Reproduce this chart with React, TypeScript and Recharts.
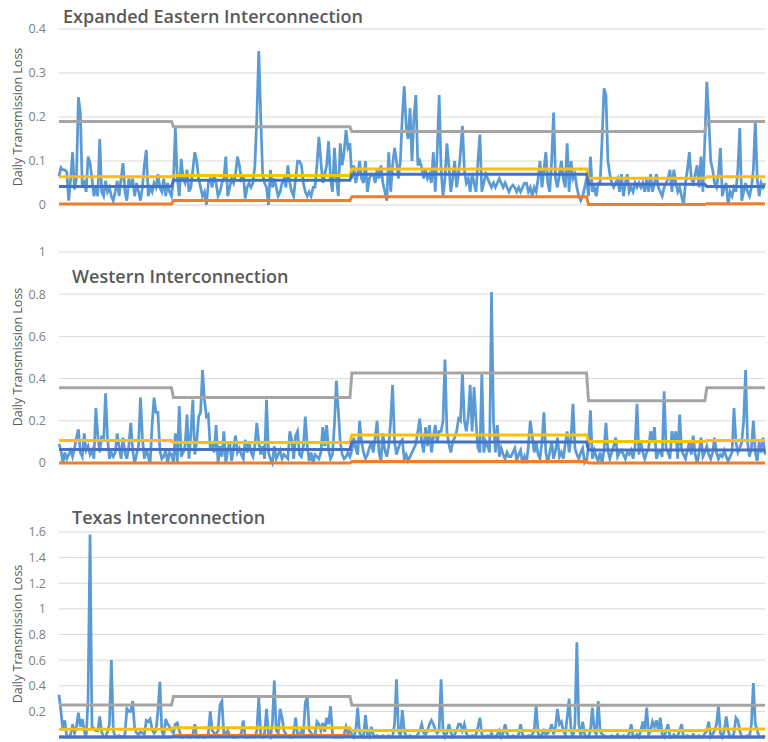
import React from "react";
import { LineChart, Line, XAxis, YAxis, CartesianGrid } from "recharts";

// days per season block: Jan-Feb, Mar-May, Jun-Sep, Oct-Nov, Dec
const seasonDays = [59, 92, 122, 61, 31];

const eastDaily = [
  0.065, 0.085, 0.08, 0.08, 0.075, 0.01, 0.06, 0.12, 0.035, 0.06,
  0.245, 0.21, 0.04, 0.05, 0.03, 0.11, 0.095, 0.06, 0.02, 0.04,
  0.02, 0.15, 0.03, 0.02, 0.055, 0.03, 0.04, 0.02, 0.01, 0.03,
  0.055, 0.02, 0.06, 0.095, 0.03, 0.01, 0.06, 0.04, 0.06, 0.02,
  0.05, 0.03, 0.01, 0.04, 0.09, 0.125, 0.02, 0.04, 0.03, 0.05,
  0.04, 0.07, 0.04, 0.03, 0.06, 0.02, 0.05, 0.03, 0.02, 0.055,
  0.175, 0.06, 0.02, 0.105, 0.06, 0.05, 0.08, 0.03, 0.04, 0.08,
  0.12, 0.1, 0.06, 0.04, 0.02, 0.03, 0.0, 0.05, 0.06, 0.04,
  0.07, 0.05, 0.02, 0.03, 0.05, 0.06, 0.11, 0.02, 0.04, 0.06,
  0.05, 0.07, 0.11, 0.09, 0.06, 0.07, 0.015, 0.04, 0.05, 0.04,
  0.05, 0.09, 0.2, 0.35, 0.2, 0.07, 0.05, 0.04, 0.0, 0.08,
  0.04, 0.06, 0.04, 0.02, 0.03, 0.05, 0.06, 0.04, 0.09, 0.05,
  0.03, 0.02, 0.06, 0.1, 0.1, 0.09, 0.05, 0.03, 0.02, 0.03,
  0.02, 0.04, 0.04, 0.09, 0.155, 0.1, 0.05, 0.07, 0.09, 0.145,
  0.06, 0.03, 0.13, 0.06, 0.02, 0.14, 0.09, 0.12, 0.17, 0.13,
  0.14, 0.06, 0.09, 0.05, 0.07, 0.1, 0.06, 0.05, 0.1, 0.03,
  0.06, 0.07, 0.07, 0.05, 0.08, 0.06, 0.09, 0.05, 0.03, 0.01,
  0.12, 0.03, 0.09, 0.13, 0.1, 0.06, 0.1, 0.2, 0.27, 0.18,
  0.15, 0.22, 0.1, 0.2, 0.25, 0.09, 0.1, 0.085, 0.06, 0.08,
  0.06, 0.07, 0.05, 0.12, 0.03, 0.12, 0.25, 0.08, 0.02, 0.06,
  0.14, 0.09, 0.03, 0.06, 0.1, 0.04, 0.07, 0.12, 0.18, 0.08,
  0.05, 0.06, 0.03, 0.07, 0.05, 0.03, 0.1, 0.16, 0.03, 0.05,
  0.07, 0.06, 0.05, 0.04, 0.05, 0.04, 0.05, 0.06, 0.05, 0.04,
  0.05, 0.04, 0.03, 0.04, 0.045, 0.04, 0.03, 0.04, 0.03, 0.04,
  0.05, 0.05, 0.03, 0.04, 0.02, 0.04, 0.03, 0.06, 0.1, 0.04,
  0.08, 0.12, 0.05, 0.03, 0.1, 0.21, 0.06, 0.04, 0.07, 0.1,
  0.06, 0.04, 0.14, 0.03, 0.1, 0.06, 0.07, 0.04, 0.02, 0.01,
  0.02, 0.04, 0.06, 0.02, 0.11, 0.03, 0.04, 0.02, 0.05, 0.05,
  0.15, 0.265, 0.25, 0.1, 0.07, 0.05, 0.04, 0.05, 0.06, 0.03,
  0.07, 0.02, 0.05, 0.07, 0.03, 0.04, 0.03, 0.05, 0.04, 0.05,
  0.04, 0.05, 0.03, 0.06, 0.03, 0.07, 0.03, 0.05, 0.07, 0.04,
  0.03, 0.02, 0.04, 0.05, 0.06, 0.08, 0.03, 0.08, 0.05, 0.03,
  0.04, 0.02, 0.0, 0.05, 0.08, 0.12, 0.06, 0.05, 0.07, 0.09,
  0.04, 0.11, 0.03, 0.15, 0.28, 0.2, 0.1, 0.08, 0.05, 0.04,
  0.07, 0.13, 0.02, 0.04, 0.05, 0.0, 0.03, 0.02, 0.04, 0.03,
  0.08, 0.175, 0.01, 0.03, 0.05, 0.03, 0.02, 0.04, 0.08, 0.19,
  0.06, 0.02, 0.05, 0.04, 0.05,
];

const westDaily = [
  0.09, 0.06, 0.0, 0.05, 0.02, 0.04, 0.06, 0.03, 0.07, 0.12,
  0.16, 0.05, 0.03, 0.14, 0.06, 0.08, 0.04, 0.06, 0.02, 0.26,
  0.13, 0.05, 0.13, 0.1, 0.33, 0.12, 0.02, 0.05, 0.03, 0.05,
  0.14, 0.08, 0.02, 0.12, 0.05, 0.02, 0.08, 0.19, 0.06, 0.0,
  0.04, 0.08, 0.31, 0.12, 0.02, 0.07, 0.03, 0.0, 0.18, 0.31,
  0.24, 0.24, 0.06, 0.02, 0.03, 0.06, 0.0, 0.05, 0.04, 0.0,
  0.14, 0.0, 0.27, 0.03, 0.05, 0.08, 0.23, 0.02, 0.14, 0.3,
  0.04, 0.1, 0.22, 0.24, 0.44, 0.3, 0.22, 0.23, 0.06, 0.1,
  0.05, 0.18, 0.0, 0.08, 0.03, 0.15, 0.0, 0.06, 0.1, 0.01,
  0.07, 0.13, 0.05, 0.07, 0.04, 0.02, 0.11, 0.05, 0.1, 0.05,
  0.03, 0.08, 0.19, 0.1, 0.04, 0.08, 0.02, 0.3, 0.05, 0.02,
  0.0, 0.08, 0.02, 0.04, 0.06, 0.02, 0.04, 0.03, 0.02, 0.15,
  0.11, 0.02, 0.13, 0.15, 0.04, 0.03, 0.08, 0.22, 0.08, 0.01,
  0.05, 0.0, 0.04, 0.03, 0.02, 0.05, 0.17, 0.08, 0.18, 0.06,
  0.02, 0.04, 0.18, 0.39, 0.25, 0.1, 0.04, 0.02, 0.03, 0.05,
  0.03, 0.06, 0.12, 0.07, 0.04, 0.2, 0.1, 0.05, 0.02, 0.04,
  0.07, 0.1, 0.05, 0.12, 0.2, 0.05, 0.01, 0.14, 0.06, 0.03,
  0.08, 0.2, 0.37, 0.1, 0.04, 0.07, 0.1, 0.11, 0.02, 0.04,
  0.01, 0.03, 0.05, 0.07, 0.09, 0.15, 0.21, 0.1, 0.05, 0.17,
  0.08, 0.18, 0.05, 0.12, 0.18, 0.1, 0.15, 0.15, 0.2, 0.49,
  0.15, 0.09, 0.05, 0.1, 0.12, 0.15, 0.21, 0.2, 0.43, 0.2,
  0.15, 0.22, 0.37, 0.15, 0.36, 0.2, 0.07, 0.05, 0.42, 0.05,
  0.1, 0.08, 0.05, 0.81, 0.2, 0.05, 0.18, 0.03, 0.07, 0.04,
  0.02, 0.05, 0.03, 0.03, 0.05, 0.07, 0.01, 0.04, 0.06, 0.0,
  0.03, 0.0, 0.08, 0.2, 0.13, 0.05, 0.1, 0.04, 0.02, 0.1,
  0.24, 0.05, 0.0, 0.05, 0.1, 0.02, 0.06, 0.12, 0.03, 0.05,
  0.02, 0.09, 0.15, 0.05, 0.12, 0.28, 0.07, 0.04, 0.02, 0.05,
  0.07, 0.0, 0.01, 0.08, 0.25, 0.02, 0.06, 0.03, 0.01, 0.05,
  0.0, 0.06, 0.19, 0.06, 0.02, 0.05, 0.08, 0.12, 0.03, 0.05,
  0.06, 0.04, 0.02, 0.05, 0.04, 0.06, 0.02, 0.08, 0.28, 0.04,
  0.1, 0.05, 0.02, 0.05, 0.07, 0.15, 0.1, 0.17, 0.02, 0.05,
  0.05, 0.03, 0.34, 0.07, 0.05, 0.02, 0.15, 0.1, 0.15, 0.02,
  0.23, 0.06, 0.04, 0.02, 0.06, 0.1, 0.04, 0.13, 0.04, 0.0,
  0.05, 0.12, 0.03, 0.05, 0.08, 0.04, 0.02, 0.05, 0.12, 0.05,
  0.02, 0.04, 0.03, 0.06, 0.03, 0.01, 0.03, 0.05, 0.26, 0.1,
  0.05, 0.07, 0.1, 0.2, 0.44, 0.1, 0.03, 0.07, 0.2, 0.05,
  0.01, 0.1, 0.05, 0.12, 0.04,
];

const texasDaily = [
  0.33, 0.2, 0.05, 0.13, 0.0, 0.0, 0.02, 0.1, 0.03, 0.08,
  0.19, 0.08, 0.14, 0.05, 0.0, 0.3, 1.58, 0.07, 0.07, 0.05,
  0.05, 0.16, 0.04, 0.0, 0.0, 0.04, 0.1, 0.6, 0.05, 0.0,
  0.0, 0.01, 0.0, 0.0, 0.02, 0.22, 0.2, 0.2, 0.28, 0.07,
  0.03, 0.02, 0.04, 0.03, 0.02, 0.13, 0.12, 0.14, 0.06, 0.03,
  0.05, 0.2, 0.43, 0.05, 0.0, 0.14, 0.1, 0.08, 0.05, 0.03,
  0.1, 0.11, 0.05, 0.0, 0.0, 0.01, 0.0, 0.0, 0.0, 0.02,
  0.1, 0.0, 0.0, 0.01, 0.0, 0.0, 0.0, 0.03, 0.2, 0.05,
  0.03, 0.02, 0.05, 0.25, 0.28, 0.02, 0.03, 0.05, 0.01, 0.0,
  0.0, 0.0, 0.0, 0.01, 0.03, 0.13, 0.0, 0.0, 0.0, 0.01,
  0.0, 0.0, 0.05, 0.31, 0.02, 0.0, 0.03, 0.22, 0.02, 0.0,
  0.1, 0.44, 0.05, 0.03, 0.22, 0.15, 0.05, 0.02, 0.01, 0.0,
  0.0, 0.03, 0.15, 0.02, 0.01, 0.05, 0.03, 0.27, 0.31, 0.05,
  0.03, 0.01, 0.02, 0.12, 0.1, 0.05, 0.11, 0.04, 0.15, 0.1,
  0.24, 0.03, 0.0, 0.0, 0.0, 0.0, 0.0, 0.02, 0.08, 0.03,
  0.05, 0.02, 0.0, 0.05, 0.23, 0.03, 0.01, 0.0, 0.17, 0.02,
  0.0, 0.08, 0.02, 0.0, 0.01, 0.0, 0.0, 0.01, 0.0, 0.0,
  0.01, 0.0, 0.0, 0.1, 0.45, 0.05, 0.0, 0.21, 0.05, 0.0,
  0.0, 0.01, 0.0, 0.0, 0.0, 0.02, 0.05, 0.1, 0.03, 0.02,
  0.05, 0.1, 0.13, 0.1, 0.06, 0.03, 0.05, 0.45, 0.05, 0.0,
  0.03, 0.1, 0.04, 0.0, 0.02, 0.05, 0.1, 0.1, 0.05, 0.1,
  0.03, 0.0, 0.0, 0.01, 0.0, 0.02, 0.08, 0.15, 0.02, 0.0,
  0.0, 0.01, 0.0, 0.03, 0.0, 0.0, 0.02, 0.05, 0.0, 0.03,
  0.1, 0.03, 0.0, 0.0, 0.01, 0.0, 0.0, 0.02, 0.1, 0.02,
  0.0, 0.0, 0.01, 0.0, 0.02, 0.05, 0.25, 0.03, 0.0, 0.02,
  0.05, 0.02, 0.03, 0.05, 0.1, 0.02, 0.08, 0.22, 0.1, 0.12,
  0.05, 0.02, 0.15, 0.3, 0.05, 0.0, 0.1, 0.74, 0.1, 0.0,
  0.12, 0.02, 0.0, 0.0, 0.05, 0.23, 0.05, 0.02, 0.28, 0.05,
  0.02, 0.01, 0.0, 0.0, 0.0, 0.01, 0.0, 0.0, 0.02, 0.0,
  0.0, 0.01, 0.0, 0.0, 0.03, 0.1, 0.0, 0.0, 0.02, 0.0,
  0.05, 0.12, 0.05, 0.23, 0.02, 0.05, 0.12, 0.08, 0.13, 0.05,
  0.15, 0.02, 0.0, 0.05, 0.1, 0.0, 0.0, 0.02, 0.0, 0.01,
  0.05, 0.1, 0.0, 0.0, 0.01, 0.0, 0.0, 0.02, 0.0, 0.0,
  0.01, 0.0, 0.0, 0.03, 0.05, 0.12, 0.0, 0.02, 0.05, 0.1,
  0.24, 0.03, 0.0, 0.05, 0.16, 0.05, 0.0, 0.0, 0.03, 0.15,
  0.13, 0.05, 0.0, 0.0, 0.0, 0.01, 0.0, 0.1, 0.42, 0.1,
  0.05, 0.0, 0.0, 0.0, 0.01,
];

// seasonal step values, one per season block
const eastOrange = [0.002, 0.01, 0.019, 0.001, 0.003];
const eastGray = [0.19, 0.178, 0.167, 0.167, 0.19];
const eastYellow = [0.064, 0.067, 0.082, 0.061, 0.064];
const eastBlue = [0.042, 0.056, 0.07, 0.047, 0.042];

const westOrange = [0.0, 0.0, 0.007, 0.0, 0.0];
const westGray = [0.357, 0.31, 0.426, 0.295, 0.357];
const westYellow = [0.107, 0.097, 0.133, 0.102, 0.107];
const westBlue = [0.064, 0.064, 0.1, 0.062, 0.062];

const texasOrange = [0.0, 0.012, 0.0, 0.0, 0.0];
const texasGray = [0.25, 0.317, 0.247, 0.247, 0.247];
const texasYellow = [0.06, 0.073, 0.05, 0.05, 0.062];
const texasBlue = [0.0, 0.0, 0.0, 0.0, 0.0];

const eastTicks = [0, 0.1, 0.2, 0.3, 0.4];
const westTicks = [0, 0.2, 0.4, 0.6, 0.8, 1];
const texasTicks = [0, 0.2, 0.4, 0.6, 0.8, 1, 1.2, 1.4, 1.6];

const seasonOf: number[] = [];
seasonDays.forEach((n, s) => {
  for (let i = 0; i < n; i++) seasonOf.push(s);
});

const buildRows = (
  daily: number[],
  orange: number[],
  gray: number[],
  yellow: number[],
  blue: number[]
) =>
  daily.map((v, i) => ({
    day: i,
    daily: v,
    orange: orange[seasonOf[i]],
    gray: gray[seasonOf[i]],
    yellow: yellow[seasonOf[i]],
    blue: blue[seasonOf[i]],
  }));

const eastRows = buildRows(eastDaily, eastOrange, eastGray, eastYellow, eastBlue);
const westRows = buildRows(westDaily, westOrange, westGray, westYellow, westBlue);
const texasRows = buildRows(texasDaily, texasOrange, texasGray, texasYellow, texasBlue);

interface PanelProps {
  top: number;
  height: number;
  mTop: number;
  mBottom: number;
  rows: any[];
  ticks: number[];
}

const Panel: React.FC<PanelProps> = ({ top, height, mTop, mBottom, rows, ticks }) => (
  <div style={{ position: "absolute", left: 0, top, width: 768, height }}>
    <LineChart
      width={768}
      height={height}
      data={rows}
      margin={{ top: mTop, right: 3, bottom: mBottom, left: 0 }}
    >
      <CartesianGrid vertical={false} stroke="#d9d9d9" />
      <XAxis dataKey="day" type="number" domain={[0, 364]} hide />
      <YAxis
        domain={[0, ticks[ticks.length - 1]]}
        ticks={ticks}
        width={59}
        axisLine={false}
        tickLine={false}
        tickSize={0}
        tickMargin={13}
        tick={{ fill: "#7f7f7f", fontSize: 12.5 }}
      />
      <Line dataKey="daily" stroke="#5b9bd5" strokeWidth={2.75} dot={false} isAnimationActive={false} />
      <Line dataKey="orange" stroke="#ed7d31" strokeWidth={3} dot={false} isAnimationActive={false} />
      <Line dataKey="gray" stroke="#a5a5a5" strokeWidth={3} dot={false} isAnimationActive={false} />
      <Line dataKey="yellow" stroke="#ffc000" strokeWidth={3} dot={false} isAnimationActive={false} />
      <Line dataKey="blue" stroke="#4472c4" strokeWidth={3} dot={false} isAnimationActive={false} />
    </LineChart>
  </div>
);

const titleStyle: React.CSSProperties = {
  position: "absolute",
  fontSize: 18,
  fontWeight: 600,
  color: "#595959",
  lineHeight: "20px",
  whiteSpace: "nowrap",
};

const axisLabel = (cy: number) => (
  <div
    style={{
      position: "absolute",
      left: 17,
      top: cy,
      transform: "translate(-50%, -50%) rotate(-90deg)",
      fontSize: 12.5,
      color: "#595959",
      whiteSpace: "nowrap",
    }}
  >
    Daily Transmission Loss
  </div>
);

const App: React.FC = () => (
  <div
    style={{
      position: "absolute",
      left: 0,
      top: 0,
      width: 768,
      height: 742,
      background: "#fff",
      fontFamily: "'Open Sans', sans-serif",
      overflow: "hidden",
    }}
  >
    <Panel top={0} height={230} mTop={29} mBottom={25} rows={eastRows} ticks={eastTicks} />
    <Panel top={230} height={250} mTop={22} mBottom={17} rows={westRows} ticks={westTicks} />
    <Panel top={480} height={262} mTop={52} mBottom={5} rows={texasRows} ticks={texasTicks} />

    <div style={{ ...titleStyle, left: 63, top: 6 }}>Expanded Eastern Interconnection</div>
    <div style={{ ...titleStyle, left: 72, top: 266 }}>Western Interconnection</div>
    <div style={{ ...titleStyle, left: 72, top: 507 }}>Texas Interconnection</div>

    {axisLabel(117)}
    {axisLabel(357)}
    {axisLabel(634)}
  </div>
);

export default App;
